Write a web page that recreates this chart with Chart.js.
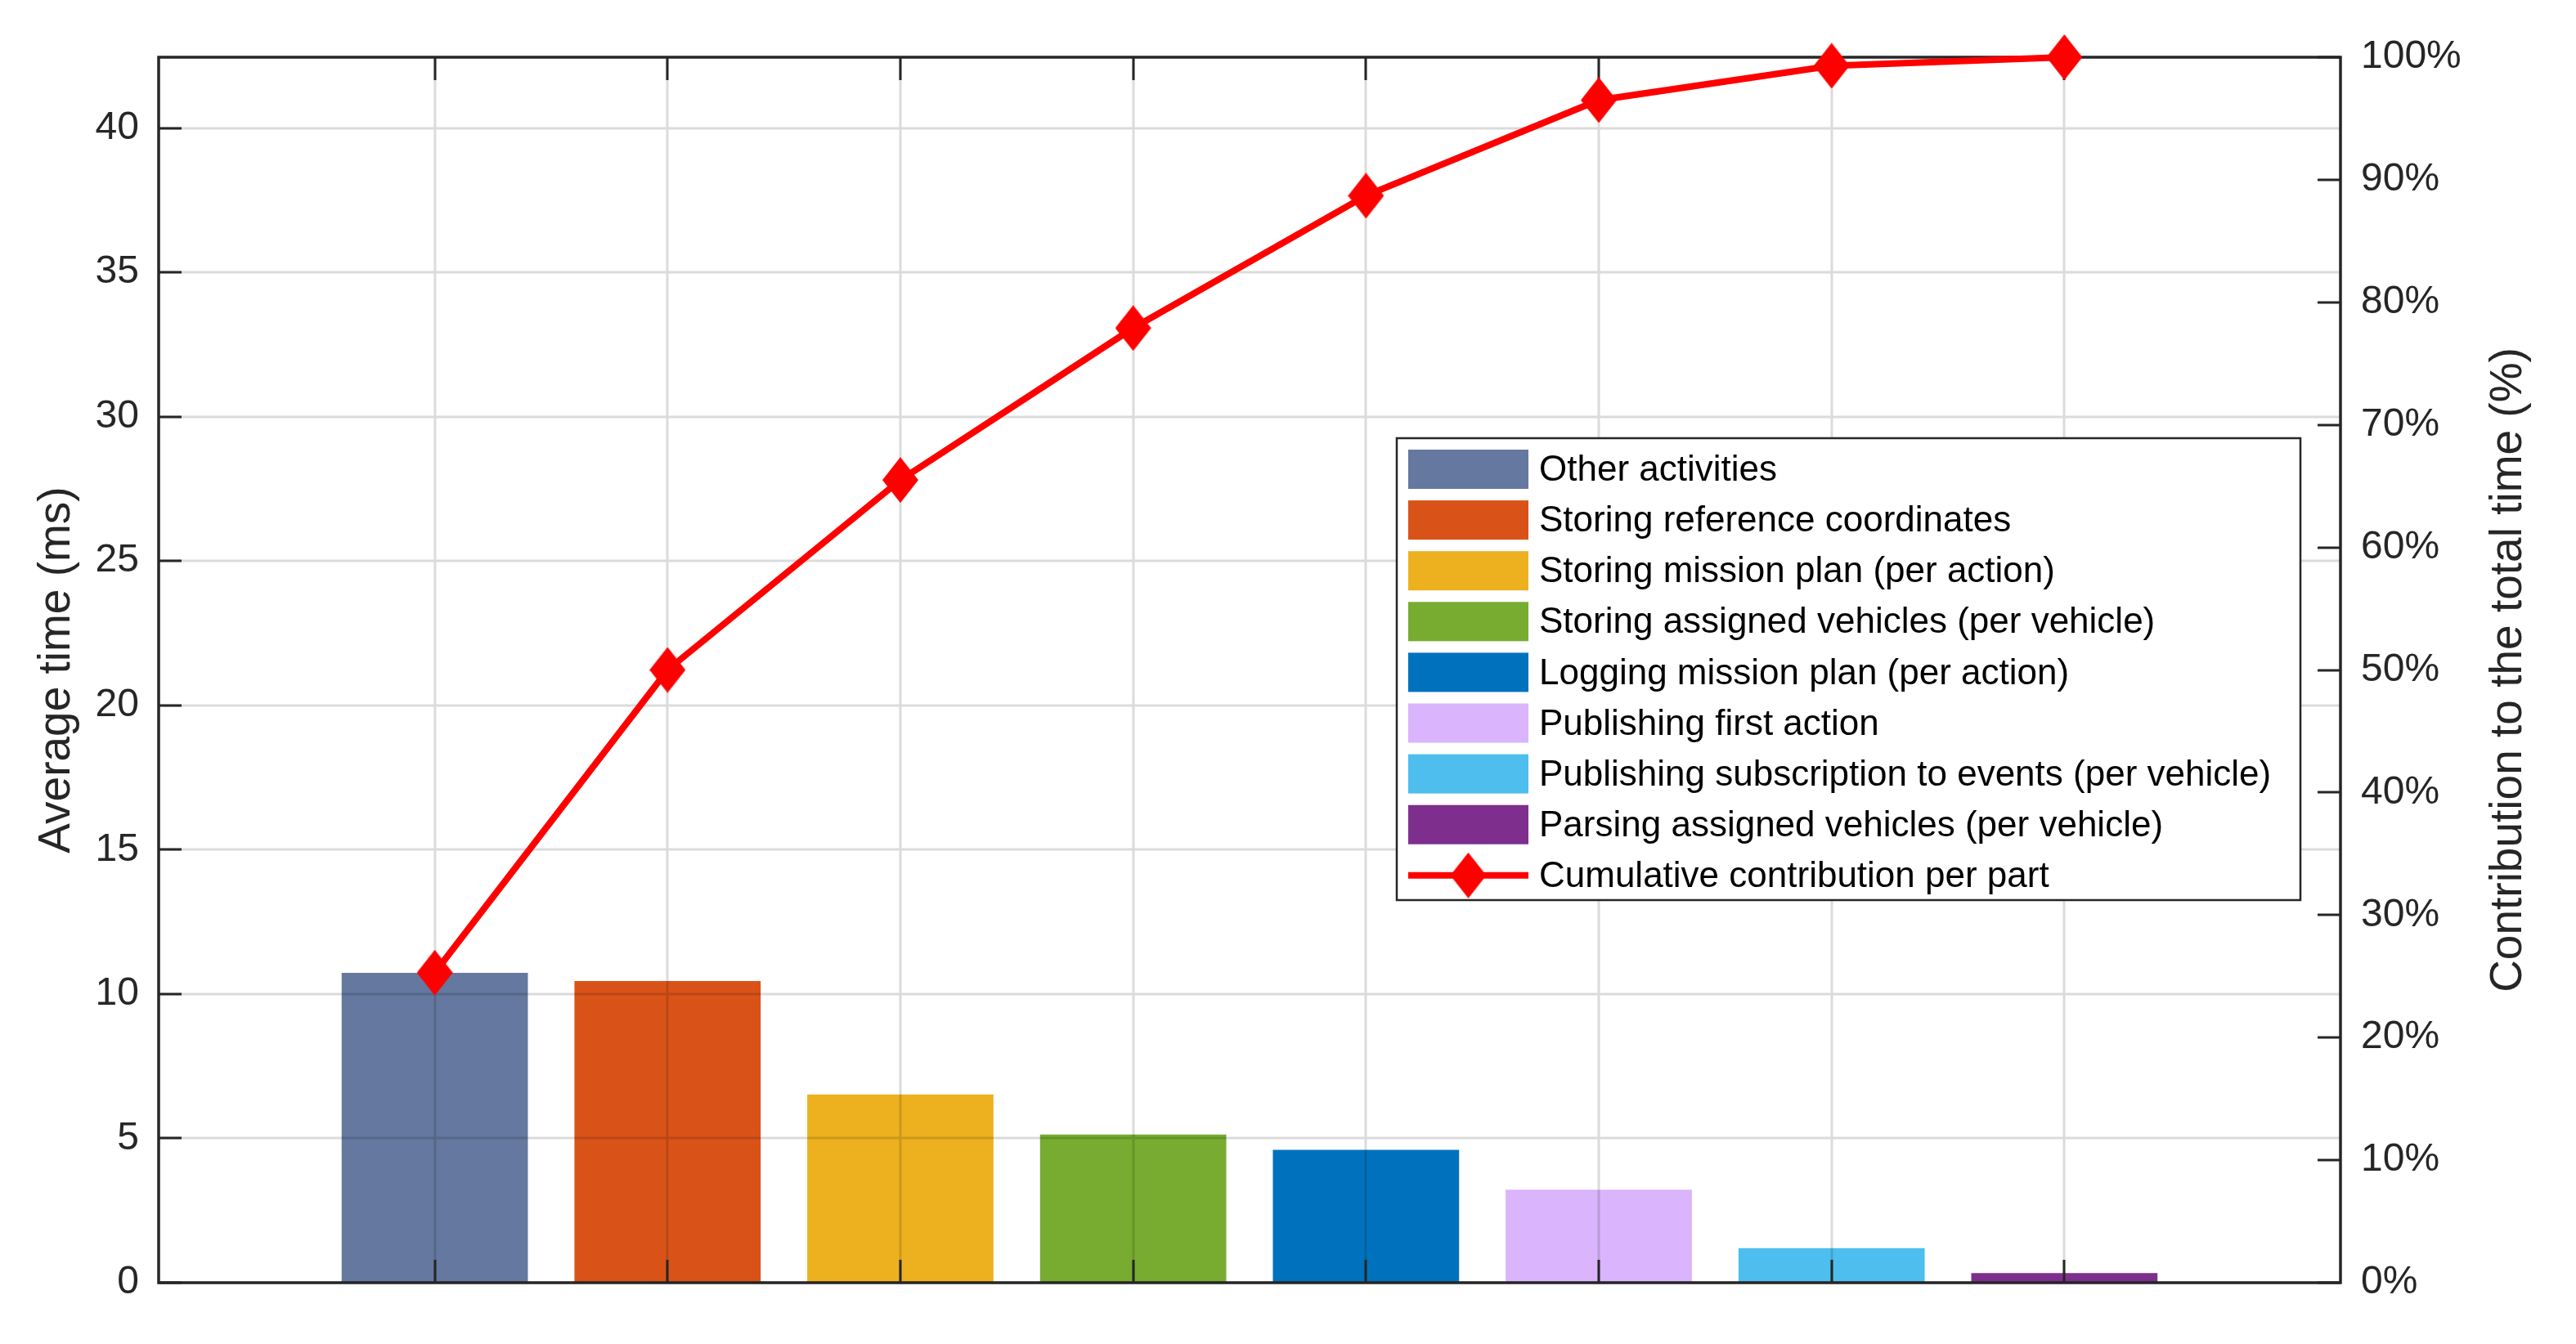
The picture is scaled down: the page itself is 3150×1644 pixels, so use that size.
<!DOCTYPE html>
<html>
<head>
<meta charset="utf-8">
<title>Average time per part</title>
<script src="https://cdn.jsdelivr.net/npm/chart.js@4.4.1/dist/chart.umd.min.js"></script>
<style>
  html, body { margin: 0; padding: 0; background: #fff; }
  #wrap { width: 3150px; height: 1644px; position: relative; }
</style>
</head>
<body>
<div id="wrap"><canvas id="chart"></canvas></div>
<script>
// data
const parts = [
  'Other activities',
  'Storing reference coordinates',
  'Storing mission plan (per action)',
  'Storing assigned vehicles (per vehicle)',
  'Logging mission plan (per action)',
  'Publishing first action',
  'Publishing subscription to events (per vehicle)',
  'Parsing assigned vehicles (per vehicle)'
];
const partPos = [1, 2, 3, 4, 5, 6, 7, 8];
const avgTimeMs = [10.73, 10.45, 6.52, 5.13, 4.60, 3.22, 1.20, 0.33];
const cumulativePct = [25.3, 50.0, 65.5, 77.9, 88.7, 96.5, 99.3, 100];
const partColors = ['#65789F', '#D95319', '#EDB120', '#77AC30', '#0072BD', '#DAB4FC', '#4DBEEE', '#7E2F8E'];
const lineLabel = 'Cumulative contribution per part';
const leftTicks = [0, 5, 10, 15, 20, 25, 30, 35, 40];
const rightTicks = [0, 10, 20, 30, 40, 50, 60, 70, 80, 90, 100];

const axisColor = '#262626';
const fontFamily = "'Liberation Sans', Arial, sans-serif";

function diamond(w, h) {
  const c = document.createElement('canvas');
  c.width = w; c.height = h;
  const g = c.getContext('2d');
  g.fillStyle = '#ff0000';
  g.beginPath();
  g.moveTo(w / 2, 0); g.lineTo(w, h / 2); g.lineTo(w / 2, h); g.lineTo(0, h / 2);
  g.closePath();
  g.fill();
  return c;
}
const marker = diamond(44, 56);

// grid on top of the bars, inward ticks, axes box, right label and legend
const frame = {
  id: 'frame',
  afterDatasetDraw(chart, args) {
    if (args.meta.type !== 'bar') return;
    const { ctx, chartArea: a, scales } = chart;
    ctx.save();
    ctx.strokeStyle = 'rgba(0,0,0,0.14)';
    ctx.lineWidth = 3;
    ctx.beginPath();
    scales.x.ticks.forEach(t => {
      const px = Math.round(scales.x.getPixelForValue(t.value));
      ctx.moveTo(px, a.top); ctx.lineTo(px, a.bottom);
    });
    scales.y.ticks.forEach(t => {
      const py = Math.round(scales.y.getPixelForValue(t.value));
      ctx.moveTo(a.left, py); ctx.lineTo(a.right, py);
    });
    ctx.stroke();

    const tl = 28;
    ctx.strokeStyle = axisColor;
    ctx.lineWidth = 3;
    ctx.beginPath();
    scales.x.ticks.forEach(t => {
      const px = Math.round(scales.x.getPixelForValue(t.value));
      ctx.moveTo(px, a.bottom); ctx.lineTo(px, a.bottom - tl);
      ctx.moveTo(px, a.top); ctx.lineTo(px, a.top + tl);
    });
    scales.y.ticks.forEach(t => {
      const py = Math.round(scales.y.getPixelForValue(t.value));
      ctx.moveTo(a.left, py); ctx.lineTo(a.left + tl, py);
    });
    scales.y1.ticks.forEach(t => {
      const py = Math.round(scales.y1.getPixelForValue(t.value));
      ctx.moveTo(a.right, py); ctx.lineTo(a.right - tl, py);
    });
    ctx.stroke();
    ctx.lineWidth = 3.5;
    ctx.strokeRect(a.left, a.top, a.right - a.left, a.bottom - a.top);
    ctx.restore();
  },
  afterDraw(chart) {
    const { ctx, chartArea: a } = chart;
    ctx.save();
    // right axis title, reading bottom to top
    ctx.translate(3068, (a.top + a.bottom) / 2);
    ctx.rotate(-Math.PI / 2);
    ctx.fillStyle = axisColor;
    ctx.font = '55px ' + fontFamily;
    ctx.textAlign = 'center';
    ctx.textBaseline = 'middle';
    ctx.fillText('Contribution to the total time (%)', 0, 0);
    ctx.restore();

    // legend
    const box = { x: 1708, y: 536, w: 1105, h: 565 };
    ctx.save();
    ctx.fillStyle = '#fff';
    ctx.fillRect(box.x, box.y, box.w, box.h);
    ctx.strokeStyle = axisColor;
    ctx.lineWidth = 2.5;
    ctx.strokeRect(box.x, box.y, box.w, box.h);
    ctx.font = '44px ' + fontFamily;
    ctx.textBaseline = 'middle';
    const rowH = 62.1, y0 = 574, sx = 1722, sw = 147, sh = 48, tx = 1882;
    parts.forEach((p, i) => {
      const cy = y0 + i * rowH;
      ctx.fillStyle = partColors[i];
      ctx.fillRect(sx, cy - sh / 2, sw, sh);
      ctx.fillStyle = '#000';
      ctx.fillText(p, tx, cy + 2);
    });
    const cy = y0 + parts.length * rowH;
    ctx.strokeStyle = '#ff0000';
    ctx.lineWidth = 8;
    ctx.beginPath();
    ctx.moveTo(sx, cy); ctx.lineTo(sx + sw, cy);
    ctx.stroke();
    ctx.drawImage(marker, sx + sw / 2 - marker.width / 2, cy - marker.height / 2);
    ctx.fillStyle = '#000';
    ctx.fillText(lineLabel, tx, cy + 2);
    ctx.restore();
  }
};

const tickFont = { family: fontFamily, size: 48 };

new Chart(document.getElementById('chart'), {
  type: 'bar',
  data: {
    datasets: [
      {
        type: 'line',
        label: lineLabel,
        data: partPos.map((x, i) => ({ x: x, y: cumulativePct[i] })),
        xAxisID: 'x',
        yAxisID: 'y1',
        borderColor: '#ff0000',
        borderWidth: 8,
        pointStyle: marker,
        pointRadius: 22,
        clip: false,
        order: 0
      },
      {
        type: 'bar',
        label: 'Average time',
        data: partPos.map((x, i) => ({ x: x, y: avgTimeMs[i] })),
        xAxisID: 'x',
        yAxisID: 'y',
        backgroundColor: partColors,
        barPercentage: 0.8,
        categoryPercentage: 1.0,
        order: 1
      }
    ]
  },
  plugins: [frame],
  options: {
    responsive: true,
    maintainAspectRatio: false,
    animation: false,
    layout: { padding: { top: 70, left: 0, right: 0, bottom: 0 } },
    plugins: {
      legend: { display: false },
      tooltip: { enabled: false }
    },
    scales: {
      x: {
        type: 'linear',
        offset: false,
        min: -0.186,
        max: 9.186,
        grid: { display: false, drawTicks: false, offset: false },
        border: { display: false },
        ticks: { display: false },
        afterBuildTicks: s => { s.ticks = partPos.map(v => ({ value: v })); },
        afterFit: s => { s.height = 75; }
      },
      y: {
        position: 'left',
        min: 0,
        max: 42.45,
        grid: { display: false, drawTicks: false },
        border: { display: false },
        ticks: { stepSize: 5, includeBounds: false, padding: 24, color: axisColor, font: tickFont },
        afterBuildTicks: s => { s.ticks = leftTicks.map(v => ({ value: v })); },
        title: {
          display: true,
          text: 'Average time (ms)',
          color: axisColor,
          font: { family: fontFamily, size: 55 },
          padding: { top: 37, bottom: 0 }
        },
        afterFit: s => { s.width = 194; }
      },
      y1: {
        position: 'right',
        min: 0,
        max: 100,
        grid: { display: false, drawTicks: false },
        border: { display: false },
        ticks: {
          padding: 25,
          color: axisColor,
          font: tickFont,
          callback: v => v + '%'
        },
        afterBuildTicks: s => { s.ticks = rightTicks.map(v => ({ value: v })); },
        afterFit: s => { s.width = 288; }
      }
    }
  }
});
</script>
</body>
</html>
